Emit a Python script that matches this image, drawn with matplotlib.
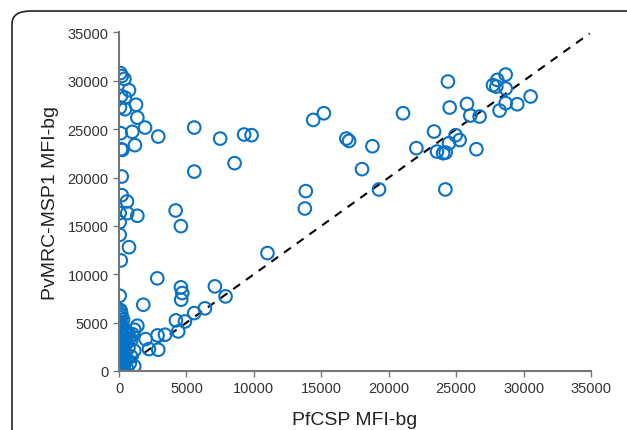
import numpy as np
import matplotlib
matplotlib.use("Agg")
import matplotlib.pyplot as plt
from matplotlib.patches import FancyBboxPatch

# PfCSP (x) vs PvMRC-MSP1 (y), MFI minus background
pf_csp = [
    100, 200, 400, 740, 150, 440, 70, 440, 1260, 1360, 1930, 120, 990, 2910,
    150, 250, 1180, 5580, 7500, 9280, 9830, 8570, 5580, 200,
    200, 590, 50, 610, 1360, 50, 50, 740, 130, 4200, 4590, 2840, 11010,
    4590, 7110, 50, 1800, 4690, 4610, 7900, 6370, 5580, 4890, 4220, 4390,
    3410, 2860, 2910, 2220, 1970, 1360, 1130, 1130, 1130, 740,
    14400, 15190, 16860, 17060, 18790, 18020, 21060, 22050, 19280, 13850, 13780,
    24390, 27730, 27980, 28050, 28670, 28670, 24520, 25800, 26050, 26740,
    28220, 28670, 29530, 30520, 23360, 24960, 25260, 24470, 23580, 24030,
    24220, 26500, 24200,
    100, 150, 80, 200, 120, 300, 250, 100, 400, 150, 600, 300, 80, 500,
    200, 350, 100, 700, 200, 50, 450, 150, 300, 80, 600, 200, 100, 400,
    50, 250, 100, 30, 600, 900, 800, 500, 700, 900, 1000, 60, 180, 320,
    40, 260, 420, 150, 350, 90, 520, 230, 20, 30, 60, 40, 10, 70, 120, 160,
]
pv_msp1 = [
    30800, 30500, 30200, 29030, 28440, 28270, 27240, 27070, 27530, 26200, 25170, 24590, 24730, 24240,
    22930, 22860, 23350, 25170, 24030, 24450, 24380, 21490, 20620, 20110,
    18180, 17530, 16320, 16320, 16050, 15390, 14080, 12800, 11430, 16600, 14980, 9580, 12190,
    8650, 8750, 7780, 6850, 8060, 7370, 7710, 6480, 5990, 5120, 5230, 4090,
    3750, 3680, 2200, 2270, 3300, 4680, 4270, 2100, 490, 3300,
    25960, 26650, 24030, 23790, 23240, 20870, 26650, 23040, 18770, 18600, 16800,
    29930, 29550, 29410, 30100, 30650, 29200, 27240, 27610, 26410, 26310,
    26930, 27690, 27580, 28380, 24760, 24380, 23880, 23550, 22690, 22520,
    22590, 22930, 18770,
    6300, 6100, 5900, 5700, 5500, 5300, 4500, 4300, 4100, 3900, 3700, 3500, 3300, 3100,
    2900, 2700, 2500, 2400, 2200, 2000, 1900, 1700, 1500, 1300, 1200, 1000, 800, 700,
    500, 300, 150, 50, 200, 1500, 800, 4000, 3900, 3200, 3800, 1100, 600, 2600,
    2300, 1800, 1400, 900, 400, 3600, 2800, 100, 400, 1200, 2100, 3000, 1600, 4800, 5000, 2800,
]
line_end = 34900  # end of the y = x reference line

fig = plt.figure(figsize=(6.27, 4.31), dpi=100)
ax = fig.add_axes([0.1898, 0.1369, 0.7528, 0.7854])

# rounded frame around the figure (cut off at right and bottom)
frame = FancyBboxPatch((12 / 627, -0.2), 1.2, (431 - 12) / 431 + 0.2,
                       boxstyle="round,pad=0,rounding_size=0.03",
                       transform=fig.transFigure, fill=False,
                       edgecolor="#222222", linewidth=1.2, clip_on=False)
fig.patches.append(frame)

ax.plot([0, line_end], [0, line_end], color="black", linestyle=(0, (4, 3.5)),
        linewidth=1.5, zorder=1)
ax.scatter(pf_csp, pv_msp1, s=82, facecolors="none", edgecolors="#0a72c4",
           linewidths=1.5, zorder=2)

ax.set_xlim(0, 35000)
ax.set_ylim(0, 35000)
ax.set_xticks(np.arange(0, 35001, 5000))
ax.set_yticks(np.arange(0, 35001, 5000))

for side in ["top", "right"]:
    ax.spines[side].set_visible(False)
for side in ["left", "bottom"]:
    ax.spines[side].set_color("#777777")
    ax.spines[side].set_linewidth(1.5)

ax.tick_params(axis="both", direction="out", length=4, width=1, color="#777777",
               labelsize=10.5, labelcolor="#333333")
for lab in ax.get_xticklabels() + ax.get_yticklabels():
    lab.set_fontfamily("Liberation Sans")

ax.set_xlabel("PfCSP MFI-bg", fontsize=14, family="Liberation Sans",
              color="#222222", labelpad=11)
ax.set_ylabel("PvMRC-MSP1 MFI-bg", fontsize=14, family="Liberation Sans",
              color="#222222", labelpad=6)

fig.savefig("out.png", dpi=100)
